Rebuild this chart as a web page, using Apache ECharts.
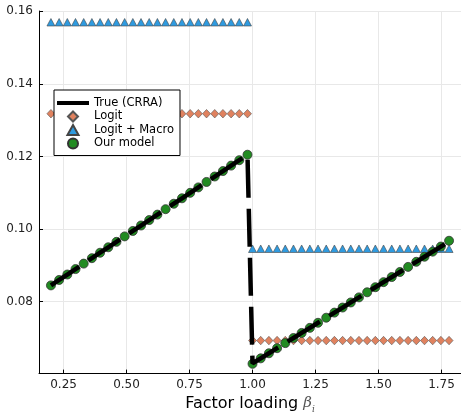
<!DOCTYPE html>
<html><head><meta charset="utf-8">
<script src="https://cdn.jsdelivr.net/npm/echarts@6/dist/echarts.min.js"></script>
<style>html,body{margin:0;padding:0;background:#fff}#c{width:461px;height:419px}</style>
</head><body><div id="c"></div>
<script>
// beta grid (two regimes)
const xLeft = [0.2, 0.2325, 0.265, 0.2975, 0.33, 0.3625, 0.395, 0.4275, 0.46, 0.4925, 0.525, 0.5575, 0.59, 0.6225, 0.655, 0.6875, 0.72, 0.7525, 0.785, 0.8175, 0.85, 0.8825, 0.915, 0.9475, 0.98];
const xRight = [1.0, 1.0325, 1.065, 1.0975, 1.13, 1.1625, 1.195, 1.2275, 1.26, 1.2925, 1.325, 1.3575, 1.39, 1.4225, 1.455, 1.4875, 1.52, 1.5525, 1.585, 1.6175, 1.65, 1.6825, 1.715, 1.7475, 1.78];

// True (CRRA)
const trueLeft = [0.0845, 0.0860, 0.0875, 0.0890, 0.0905, 0.0920, 0.0935, 0.0950, 0.0965, 0.0980, 0.0995, 0.1010, 0.1025, 0.1040, 0.1055, 0.1070, 0.1085, 0.1100, 0.1115, 0.1130, 0.1145, 0.1160, 0.1175, 0.1190, 0.1205];
const trueRight = [0.0630, 0.0644, 0.0658, 0.0672, 0.0686, 0.0700, 0.0714, 0.0728, 0.0742, 0.0756, 0.0770, 0.0784, 0.0798, 0.0812, 0.0826, 0.0840, 0.0854, 0.0868, 0.0882, 0.0896, 0.0910, 0.0924, 0.0938, 0.0952, 0.0966];

// Logit
const logitLeft = [0.1318, 0.1318, 0.1318, 0.1318, 0.1318, 0.1318, 0.1318, 0.1318, 0.1318, 0.1318, 0.1318, 0.1318, 0.1318, 0.1318, 0.1318, 0.1318, 0.1318, 0.1318, 0.1318, 0.1318, 0.1318, 0.1318, 0.1318, 0.1318, 0.1318];
const logitRight = [0.0693, 0.0693, 0.0693, 0.0693, 0.0693, 0.0693, 0.0693, 0.0693, 0.0693, 0.0693, 0.0693, 0.0693, 0.0693, 0.0693, 0.0693, 0.0693, 0.0693, 0.0693, 0.0693, 0.0693, 0.0693, 0.0693, 0.0693, 0.0693, 0.0693];

// Logit + Macro
const macroLeft = [0.1570, 0.1570, 0.1570, 0.1570, 0.1570, 0.1570, 0.1570, 0.1570, 0.1570, 0.1570, 0.1570, 0.1570, 0.1570, 0.1570, 0.1570, 0.1570, 0.1570, 0.1570, 0.1570, 0.1570, 0.1570, 0.1570, 0.1570, 0.1570, 0.1570];
const macroRight = [0.0946, 0.0946, 0.0946, 0.0946, 0.0946, 0.0946, 0.0946, 0.0946, 0.0946, 0.0946, 0.0946, 0.0946, 0.0946, 0.0946, 0.0946, 0.0946, 0.0946, 0.0946, 0.0946, 0.0946, 0.0946, 0.0946, 0.0946, 0.0946, 0.0946];

// Our model
const modelLeft = [0.0845, 0.0860, 0.0875, 0.0890, 0.0905, 0.0920, 0.0935, 0.0950, 0.0965, 0.0980, 0.0995, 0.1010, 0.1025, 0.1040, 0.1055, 0.1070, 0.1085, 0.1100, 0.1115, 0.1130, 0.1145, 0.1160, 0.1175, 0.1190, 0.1205];
const modelRight = [0.0629, 0.0644, 0.0658, 0.0672, 0.0686, 0.0700, 0.0714, 0.0728, 0.0742, 0.0756, 0.0770, 0.0784, 0.0798, 0.0812, 0.0826, 0.0840, 0.0854, 0.0868, 0.0882, 0.0896, 0.0910, 0.0924, 0.0938, 0.0952, 0.0968];

const xTicks = [0.25, 0.5, 0.75, 1.0, 1.25, 1.5, 1.75];
const yTicks = [0.08, 0.10, 0.12, 0.14, 0.16];
const seriesNames = ['True (CRRA)', 'Logit', 'Logit + Macro', 'Our model'];

const xs = xLeft.concat(xRight);
const pairs = (a, b) => xs.map((x, i) => [x, a.concat(b)[i]]);

const font = 'DejaVu Sans';
const chart = echarts.init(document.getElementById('c'), null, {renderer: 'canvas'});
chart.setOption({
  animation: false,
  backgroundColor: '#fff',
  textStyle: {fontFamily: font},
  grid: {left: 39, top: 11, width: 427, height: 370, containLabel: false},
  legend: {
    orient: 'vertical', left: 54, top: 90,
    data: [
      {name: seriesNames[0], icon: 'path://M0,0H32V4H0Z'},
      {name: seriesNames[1], icon: 'path://M5,0L10,5L5,10L0,5Z'},
      {name: seriesNames[2], icon: 'path://M5,0L10,9L0,9Z'},
      {name: seriesNames[3], icon: 'circle'}
    ],
    symbolKeepAspect: true,
    itemWidth: 32, itemHeight: 10, itemGap: 1.5,
    padding: [7, 6, 6, 3],
    backgroundColor: '#fff', borderColor: '#000', borderWidth: 1, borderRadius: 0,
    textStyle: {fontFamily: font, fontSize: 11.5, color: '#000', lineHeight: 11},
    lineStyle: {type: 'solid'},
    selectedMode: false
  },
  xAxis: {
    type: 'value', min: 0.1526, max: 1.8274,
    name: '{a|Factor loading }{b|β}{c|i}',
    nameLocation: 'middle', nameGap: 17,
    nameTextStyle: {
      rich: {
        a: {fontFamily: font, fontSize: 16, color: '#000'},
        b: {fontFamily: 'DejaVu Serif', fontStyle: 'italic', fontSize: 15, color: '#555'},
        c: {fontFamily: 'DejaVu Serif', fontStyle: 'italic', fontSize: 9, color: '#555', padding: [12, 0, 0, 0]}
      }
    },
    axisLine: {lineStyle: {color: '#000', width: 1}},
    axisTick: {inside: true, length: 4, customValues: xTicks, lineStyle: {color: '#000'}},
    axisLabel: {customValues: xTicks, margin: 5, fontSize: 12, color: '#222', fontFamily: font,
      formatter: v => v.toFixed(2)},
    splitLine: {show: true, lineStyle: {color: '#e8e8e8', width: 1}}
  },
  yAxis: {
    type: 'value', min: 0.0602, max: 0.1601,
    axisLine: {show: true, lineStyle: {color: '#000', width: 1}},
    axisTick: {show: true, inside: true, length: 4, customValues: yTicks, lineStyle: {color: '#000'}},
    axisLabel: {customValues: yTicks, margin: 6, fontSize: 12, color: '#222', fontFamily: font,
      formatter: v => v.toFixed(2)},
    splitLine: {show: true, lineStyle: {color: '#e8e8e8', width: 1}}
  },
  series: [
    {
      name: seriesNames[0], type: 'line', z: 5,
      data: pairs(trueLeft, trueRight),
      symbol: 'none', showSymbol: false,
      itemStyle: {color: '#000'},
      lineStyle: {color: '#000', width: 4.5, type: [38, 11], dashOffset: 4, cap: 'butt'}
    },
    {
      name: seriesNames[1], type: 'scatter', z: 2,
      data: pairs(logitLeft, logitRight),
      symbol: 'diamond', symbolSize: [8, 8.5],
      itemStyle: {color: '#E0825F', borderColor: '#555', borderWidth: 0.6, opacity: 1}
    },
    {
      name: seriesNames[2], type: 'scatter', z: 2,
      data: pairs(macroLeft, macroRight),
      symbol: 'triangle', symbolSize: [8, 7.5],
      itemStyle: {color: '#2F9BE0', borderColor: '#444', borderWidth: 0.6, opacity: 1}
    },
    {
      name: seriesNames[3], type: 'scatter', z: 3,
      data: pairs(modelLeft, modelRight),
      symbol: 'circle', symbolSize: 9,
      itemStyle: {color: '#228B22', borderColor: '#333', borderWidth: 0.8, opacity: 1}
    }
  ]
});
</script>
</body></html>
